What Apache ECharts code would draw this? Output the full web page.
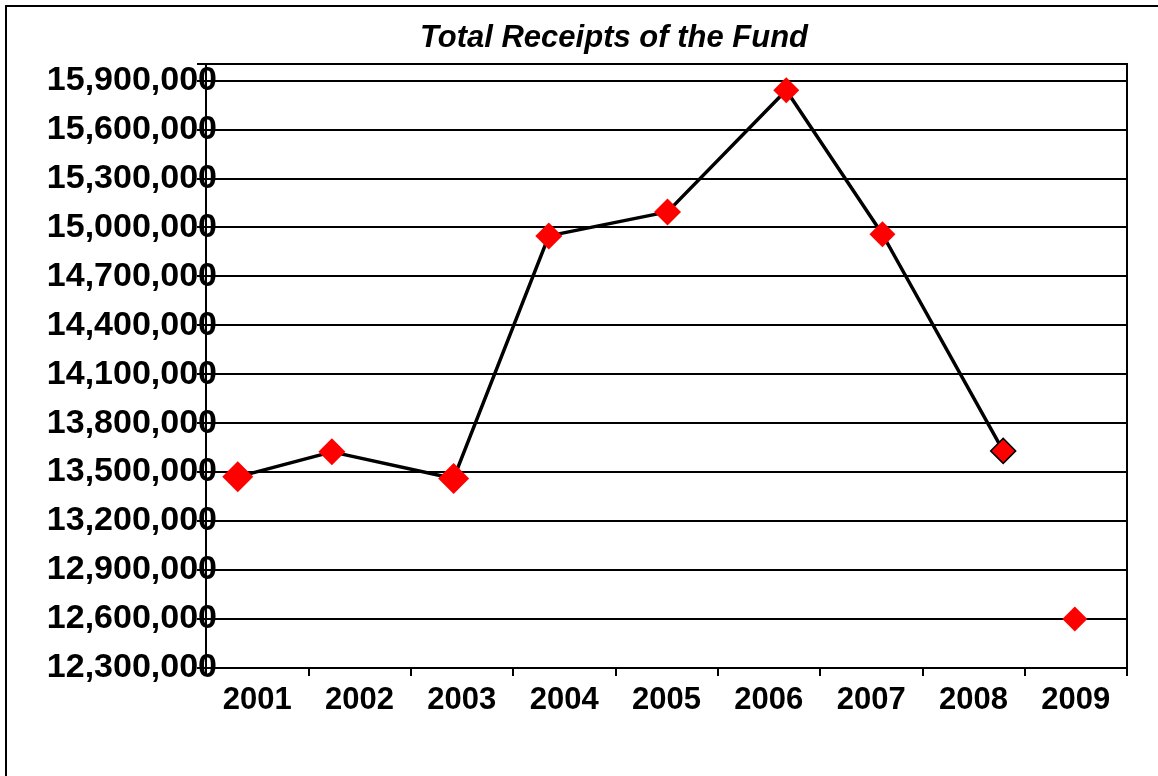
<!DOCTYPE html>
<html>
<head>
<meta charset="utf-8">
<script src="https://cdn.jsdelivr.net/npm/echarts@6/dist/echarts.min.js"></script>
<style>
html,body{margin:0;padding:0;background:#fff;}
#c{width:1158px;height:776px;}
</style>
</head>
<body>
<div id="c"></div>
<script>
// Data
const years = ['2001','2002','2003','2004','2005','2006','2007','2008','2009'];
const receipts = [13471000, 13624000, 13461000, 14947000, 15094000, 15839000, 14957000, 13630000, 12600000];
// horizontal placement of each point, in category units from the left edge of the plot
const xPos = [0.31, 1.23, 2.42, 3.35, 4.51, 5.67, 6.61, 7.79, 8.49];
const markerSizes = [31, 27, 31, 27, 27, 26, 26, 25, 25];
const yMin = 12300000, yMax = 16000000, yStep = 300000, yTopLabel = 15900000;
const titleText = 'Total Receipts of the Fund';

const FONT = '"Liberation Sans", Arial, sans-serif';
const lineCount = 8; // line connects 2001..2008; 2009 stands alone

const lineData = receipts.slice(0, lineCount).map((v, i) => {
  const d = { value: [xPos[i], v], symbolSize: [markerSizes[i], markerSizes[i]] };
  if (i === 7) d.itemStyle = { color: '#ff0000', borderColor: '#000', borderWidth: 1.5 };
  return d;
});
const loneData = receipts.slice(lineCount).map((v, j) => ({
  value: [xPos[lineCount + j], v], symbolSize: [markerSizes[lineCount + j], markerSizes[lineCount + j]]
}));

const chart = echarts.init(document.getElementById('c'), null, { renderer: 'canvas' });
chart.setOption({
  animation: false,
  backgroundColor: '#fff',
  title: {
    text: titleText, left: 609, top: 18, textAlign: 'center',
    textStyle: { fontFamily: FONT, fontSize: 31, fontWeight: 'bold', fontStyle: 'italic', color: '#000' }
  },
  graphic: [{
    type: 'rect', silent: true, z: -1,
    shape: { x: 6, y: 6, width: 1400, height: 1000 },
    style: { fill: 'none', stroke: '#000', lineWidth: 2 }
  }],
  grid: { left: 206, right: 31, top: 64, bottom: 108, show: true, borderColor: '#000', borderWidth: 2, backgroundColor: 'transparent' },
  xAxis: [{
    type: 'category', data: years, boundaryGap: true, position: 'bottom',
    axisLine: { show: true, lineStyle: { color: '#000', width: 2 } },
    axisTick: { show: true, length: 8, lineStyle: { color: '#000', width: 2 } },
    axisLabel: { margin: 17, color: '#000', fontFamily: FONT, fontSize: 31, fontWeight: 'bold' },
    splitLine: { show: false }
  }, {
    type: 'value', min: 0, max: years.length, show: false, position: 'bottom'
  }],
  yAxis: {
    type: 'value', min: yMin, max: yMax, interval: yStep,
    axisLine: { show: true, lineStyle: { color: '#000', width: 2 } },
    axisTick: { show: true, length: 9, lineStyle: { color: '#000', width: 2 } },
    axisLabel: {
      margin: -11, color: '#000', fontFamily: FONT, fontSize: 34, fontWeight: 'bold',
      padding: [4, 0, 0, 0],
      formatter: v => (v % yStep === 0 && v <= yTopLabel) ? v.toLocaleString('en-US') : ''
    },
    splitLine: { show: true, lineStyle: { color: '#000', width: 2 } }
  },
  series: [{
    type: 'line', xAxisIndex: 1, data: lineData,
    symbol: 'diamond',
    lineStyle: { color: '#000', width: 3.5 },
    itemStyle: { color: '#ff0000', borderWidth: 0, opacity: 1 },
    z: 3
  }, {
    type: 'scatter', xAxisIndex: 1, data: loneData,
    symbol: 'diamond',
    itemStyle: { color: '#ff0000', borderWidth: 0, opacity: 1 },
    z: 3
  }]
});
</script>
</body>
</html>
